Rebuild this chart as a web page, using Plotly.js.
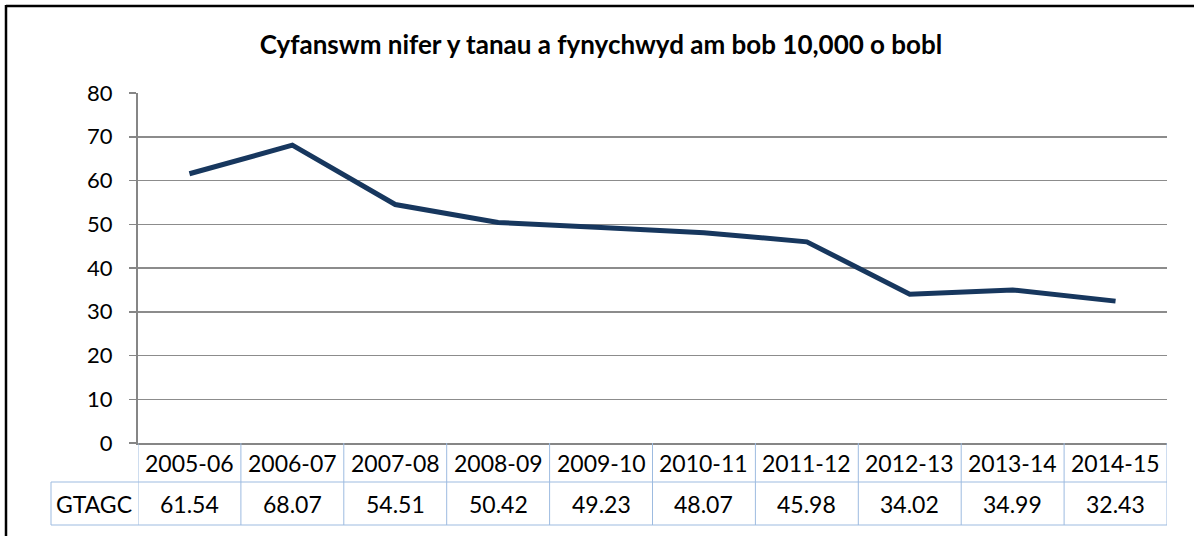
<!DOCTYPE html>
<html>
<head>
<meta charset="utf-8">
<script src="https://cdn.plot.ly/plotly-3.0.1.min.js"></script>
<style>html,body{margin:0;padding:0;background:#fff;}#chart{width:1194px;height:536px;}</style>
</head>
<body>
<div id="chart"></div>
<script>
const categories = ["2005-06","2006-07","2007-08","2008-09","2009-10","2010-11","2011-12","2012-13","2013-14","2014-15"];
const seriesName = "GTAGC";
const values = [61.54, 68.07, 54.51, 50.42, 49.23, 48.07, 45.98, 34.02, 34.99, 32.43];
const yTicks = [0,10,20,30,40,50,60,70,80];

const W = 1194, H = 536;
const L = 138, R = 1167, T = 93, B = 443;
const pw = R - L, ph = B - T;
const px = x => (x - L) / pw;
const py = y => (B - y) / ph;
const font = "Lato, 'Liberation Sans', sans-serif";
const tableColor = "#9DBBE0";

const shapes = [];
const annotations = [];
// outer border (top and left)
shapes.push({type:'line', xref:'paper', yref:'paper', x0:px(6), x1:px(W+5), y0:py(6), y1:py(6), line:{color:'#000', width:2.5}});
shapes.push({type:'line', xref:'paper', yref:'paper', x0:px(6), x1:px(6), y0:py(5), y1:py(H+5), line:{color:'#000', width:2.5}});
// table horizontal lines
shapes.push({type:'line', xref:'paper', yref:'paper', x0:px(51), x1:px(R), y0:py(482), y1:py(482), line:{color:tableColor, width:1}});
shapes.push({type:'line', xref:'paper', yref:'paper', x0:px(51), x1:px(R), y0:py(525), y1:py(525), line:{color:tableColor, width:1}});
shapes.push({type:'line', xref:'paper', yref:'paper', x0:px(51), x1:px(51), y0:py(482), y1:py(525), line:{color:tableColor, width:1}});
// vertical table lines at category boundaries
for (let i = 0; i <= categories.length; i++) {
  shapes.push({type:'line', xref:'x', yref:'paper', x0:i-0.5, x1:i-0.5, y0:py(B), y1:py(525), line:{color:tableColor, width:1}});
}
// table text
const cellFont = {family:font, size:23, color:'#000'};
categories.forEach((c, i) => {
  annotations.push({xref:'x', yref:'paper', x:i, y:py(463), xanchor:'center', yanchor:'middle', text:c, showarrow:false, font:cellFont});
  annotations.push({xref:'x', yref:'paper', x:i, y:py(504), xanchor:'center', yanchor:'middle', text:values[i].toFixed(2), showarrow:false, font:cellFont});
});
annotations.push({xref:'paper', yref:'paper', x:px(94), y:py(504), xanchor:'center', yanchor:'middle', text:seriesName, showarrow:false, font:cellFont});

const trace = {
  type:'scatter', mode:'lines',
  x: categories.map((c,i)=>i), y: values, name: seriesName,
  line:{color:'#17375E', width:5}, hoverinfo:'y'
};

const layout = {
  width:W, height:H,
  margin:{l:L, r:W-R, t:T, b:H-B},
  paper_bgcolor:'#fff', plot_bgcolor:'#fff',
  showlegend:false,
  title:{text:'<b>Cyfanswm nifer y tanau a fynychwyd am bob 10,000 o bobl</b>', x:601/W, xref:'container', xanchor:'center', y:1-45/H, yref:'container', yanchor:'middle', font:{family:font, size:26, color:'#000'}},
  xaxis:{range:[-0.5, categories.length-0.5], showticklabels:false, showgrid:false, zeroline:false, showline:true, linecolor:'#868686', linewidth:2, ticks:'', fixedrange:true},
  yaxis:{range:[0,80], tickvals:yTicks, showgrid:true, gridcolor:'#8C8C8C', gridwidth:1.5, zeroline:false, showline:true, linecolor:'#868686', linewidth:2, ticks:'outside', ticklen:7, tickcolor:'#868686', tickwidth:1.5, ticklabelstandoff:12, tickfont:{family:font, size:22, color:'#000'}},
  shapes: shapes,
  annotations: annotations
};

Plotly.newPlot('chart', [trace], layout, {displayModeBar:false, staticPlot:true});
</script>
</body>
</html>
